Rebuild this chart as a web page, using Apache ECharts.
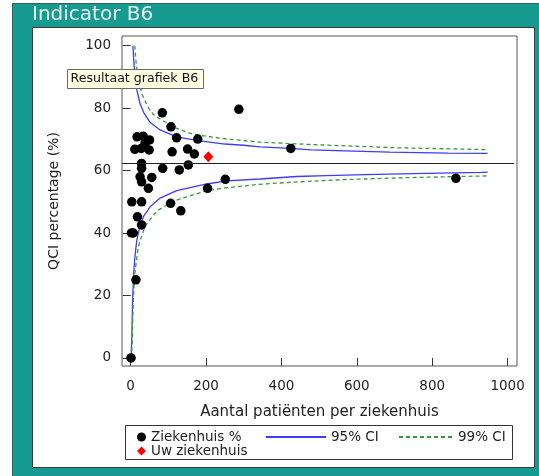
<!DOCTYPE html>
<html>
<head>
<meta charset="utf-8">
<script src="https://cdn.jsdelivr.net/npm/echarts@6/dist/echarts.min.js"></script>
<style>
html,body{margin:0;padding:0;background:#fff;}
#c{width:539px;height:476px;}
</style>
</head>
<body>
<div id="c"></div>
<script>
// ---- data ----
const titleText = 'Indicator B6';
const xName = 'Aantal patiënten per ziekenhuis';
const yName = 'QCI percentage (%)';
const xTicks = [0, 200, 400, 600, 800, 1000];
const yTicks = [0, 20, 40, 60, 80, 100];
const xRange = [-23, 1025];
const yRange = [-2.6, 103.1];
const overallMean = 62.5;
const meanLineSpan = [-23, 1018];

// hospitals: [patients, percentage]
const hospitals = [
  [1, 0], [14, 25], [2, 40], [7, 40], [29, 42.6], [18, 45.2],
  [3, 50], [29, 50], [106, 49.5], [133, 47.1], [47, 54.3], [29, 56.4],
  [25, 58], [56, 57.8], [29, 60.7], [29, 62.3], [85, 60.7], [129, 60.2],
  [153, 61.8], [204, 54.3], [251, 57.2], [863, 57.5],
  [17, 70.8], [33, 71], [50, 69.8], [11, 66.8], [28, 67.1], [49, 66.6], [38, 68.7],
  [84, 78.5], [287, 79.6], [107, 74], [122, 70.5], [178, 70.1], [425, 67.1],
  [110, 66], [151, 66.9], [169, 65.3]
];
const ownHospital = [[206, 64.4]];

const ci95Upper = [[6,100],[8,95.5],[11,91],[16,86],[25,81.4],[35,78.5],[51,75.5],[78,73],[122,70.8],[178,69.6],[250,68.5],[299,68.1],[343,67.6],[423,67.1],[480,66.6],[569,66.3],[688,65.9],[842,65.6],[947,65.5]];
const ci95Lower = [[1,0],[2,0],[3,6],[5,18],[8,27],[11,32],[16,37.5],[25,42.5],[35,45.5],[51,48.3],[78,51.2],[122,53.6],[202,55.7],[255,56.7],[343,57.3],[440,58.1],[520,58.4],[621,58.7],[749,59],[931,59.4],[947,59.5]];
const ci99Upper = [[11,100],[14,95],[20,89.5],[30,84.5],[45,80.5],[60,78],[78,76.5],[122,73.5],[166,71.6],[255,70.1],[343,69.1],[467,68.4],[706,67.3],[947,66.7]];
const ci99Lower = [[2,0],[4,5],[6,15],[8,21],[11,27],[20,35.5],[38,42.2],[69,47],[113,50.2],[202,53.6],[255,54.5],[343,55.6],[431,56.3],[564,57.1],[723,57.7],[947,58.3]];

// ---- chart ----
const FONT = '"DejaVu Sans", "Liberation Sans", Arial, sans-serif';
const TEAL = '#179b90';
const BLUE = '#3c3cff';
const GREEN = '#3a9a3a';

const chart = echarts.init(document.getElementById('c'), null, {renderer: 'canvas'});

const legendText = {fontSize: 13.5, color: '#222', fontFamily: FONT};

const option = {
  animation: false,
  textStyle: {fontFamily: FONT},
  graphic: [
    {type: 'rect', z: -100, shape: {x: 12.5, y: 3.5, width: 527, height: 473}, style: {fill: TEAL, stroke: '#2f5f5a', lineWidth: 1}},
    {type: 'rect', z: -99, shape: {x: 32.5, y: 27.5, width: 502, height: 440}, style: {fill: '#ffffff', stroke: '#3a3a3a', lineWidth: 1}},
    {type: 'text', z: -98, x: 32, y: 5, style: {text: titleText, font: '20px ' + FONT, fill: '#e6f2f0'}},
    {type: 'rect', z: -98, shape: {x: 125.5, y: 425.5, width: 387, height: 34}, style: {fill: '#ffffff', stroke: '#333', lineWidth: 1}},
    {type: 'rect', z: 200, shape: {x: 67.5, y: 69.5, width: 136, height: 19}, style: {fill: '#ffffe1', stroke: '#6a6a6a', lineWidth: 1}},
    {type: 'text', z: 201, x: 70.5, y: 79, style: {text: 'Resultaat grafiek B6', font: '12.6px ' + FONT, fill: '#111', verticalAlign: 'middle'}}
  ],
  grid: {
    left: 122, top: 36, right: 22, bottom: 110,
    show: true, borderColor: '#555', borderWidth: 1, backgroundColor: 'transparent'
  },
  xAxis: {
    type: 'value', min: xRange[0], max: xRange[1],
    name: xName, nameLocation: 'middle', nameGap: 39,
    nameTextStyle: {fontSize: 15, color: '#222', fontFamily: FONT},
    splitLine: {show: false},
    axisLine: {show: false},
    axisTick: {show: true, inside: false, length: 8, customValues: xTicks, lineStyle: {color: '#333'}},
    axisLabel: {customValues: xTicks, fontSize: 13.5, color: '#222', margin: 13, fontFamily: FONT,
      formatter: function (v) { return String(v); }}
  },
  yAxis: {
    type: 'value', min: yRange[0], max: yRange[1],
    name: yName, nameLocation: 'middle', nameGap: 61, nameRotate: 90,
    nameTextStyle: {fontSize: 14, color: '#222', fontFamily: FONT},
    splitLine: {show: false},
    axisLine: {show: false},
    axisTick: {show: true, inside: false, length: 8, customValues: yTicks, lineStyle: {color: '#333'}},
    axisLabel: {customValues: yTicks, fontSize: 13.5, color: '#222', margin: 11, fontFamily: FONT,
      formatter: function (v) { return String(v); }}
  },
  legend: [
    {
      data: [{name: 'Ziekenhuis %', icon: 'circle'}, {name: 'Uw ziekenhuis', icon: 'diamond'}],
      orient: 'vertical', left: 132, top: 425, itemWidth: 9, itemHeight: 9, itemGap: 0, itemTextGap: 8,
      textStyle: legendText, selectedMode: false
    },
    {
      data: ['95% CI'], left: 260, top: 425, itemWidth: 60, itemHeight: 10, itemTextGap: 8,
      itemStyle: {opacity: 0}, textStyle: legendText, selectedMode: false
    },
    {
      data: ['99% CI'], left: 393, top: 425, itemWidth: 54, itemHeight: 10, itemTextGap: 9,
      itemStyle: {opacity: 0}, textStyle: legendText, selectedMode: false
    }
  ],
  series: [
    {
      name: '95% CI', type: 'line', data: ci95Upper, symbol: 'none', clip: false, z: 3,
      lineStyle: {color: BLUE, width: 1.3}, itemStyle: {color: BLUE}
    },
    {
      name: '95% CI', type: 'line', data: ci95Lower, symbol: 'none', clip: false, z: 3,
      lineStyle: {color: BLUE, width: 1.3}, itemStyle: {color: BLUE}
    },
    {
      name: '99% CI', type: 'line', data: ci99Upper, symbol: 'none', clip: false, z: 3,
      lineStyle: {color: GREEN, width: 1.3, type: [4, 3]}, itemStyle: {color: GREEN}
    },
    {
      name: '99% CI', type: 'line', data: ci99Lower, symbol: 'none', clip: false, z: 3,
      lineStyle: {color: GREEN, width: 1.3, type: [4, 3]}, itemStyle: {color: GREEN}
    },
    {
      name: 'Ziekenhuis %', type: 'scatter', data: hospitals, symbol: 'circle', symbolSize: 9.5, clip: true, z: 4,
      itemStyle: {color: '#000', opacity: 1},
      markLine: {
        silent: true, symbol: ['none', 'none'], label: {show: false}, animation: false,
        lineStyle: {color: '#222', width: 1, type: 'solid'},
        data: [[{coord: [meanLineSpan[0], overallMean]}, {coord: [meanLineSpan[1], overallMean]}]]
      }
    },
    {
      name: 'Uw ziekenhuis', type: 'scatter', data: ownHospital, symbol: 'diamond', symbolSize: [10, 11], clip: false, z: 5,
      itemStyle: {color: '#ff0000', opacity: 1}
    }
  ]
};
chart.setOption(option);
</script>
</body>
</html>
